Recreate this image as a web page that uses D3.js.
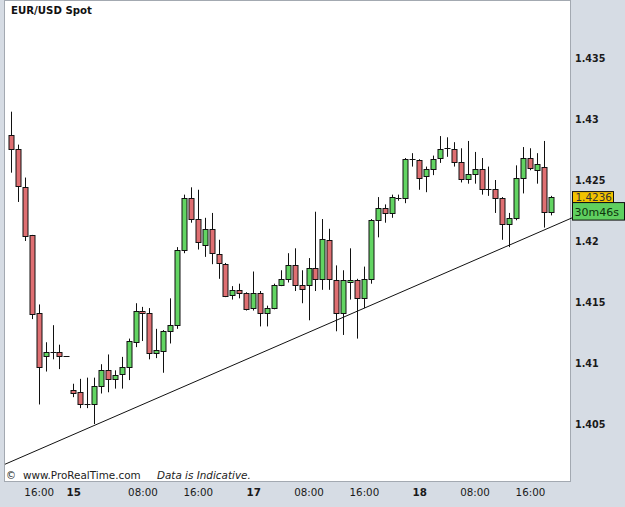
<!DOCTYPE html>
<html>
<head>
<meta charset="utf-8">
<script src="https://cdn.jsdelivr.net/npm/d3@7"></script>
<style>
html,body{margin:0;padding:0;background:#d6dce4;}
svg{display:block;}
</style>
</head>
<body>
<svg id="chart" width="625" height="507"></svg>
<script>
// ---- data ----
const title = "EUR/USD Spot";
const opens  = [1.4287,1.4275,1.4244,1.4205,1.4141,1.4106,1.4109,1.4109,1.4106,1.4078,1.4076,1.4066,1.4066,1.4081,1.4094,1.4087,1.4091,1.4097,1.4117,1.4143,1.4141,1.4108,1.4110,1.4126,1.4131,1.4193,1.4235,1.4218,1.4197,1.4210,1.4189,1.4181,1.4156,1.4160,1.4157,1.4145,1.4157,1.4141,1.4145,1.4164,1.4169,1.4180,1.4164,1.4164,1.4178,1.4169,1.4201,1.4168,1.4141,1.4166,1.4168,1.4153,1.4169,1.4217,1.4227,1.4223,1.4235,1.4235,1.4267,1.4266,1.4253,1.4259,1.4268,1.4276,1.4275,1.4265,1.4251,1.4255,1.4259,1.4243,1.4243,1.4235,1.4214,1.4219,1.4252,1.4268,1.4258,1.4261,1.4224];
const highs  = [1.4306,1.4279,1.4252,1.4205,1.4148,1.4117,1.4131,1.4115,1.4106,1.4083,1.4087,1.4088,1.4088,1.4099,1.4107,1.4094,1.4105,1.4120,1.4149,1.4146,1.4145,1.4128,1.4127,1.4153,1.4195,1.4238,1.4244,1.4242,1.4219,1.4223,1.4201,1.4182,1.4163,1.4165,1.4158,1.4175,1.4159,1.4147,1.4165,1.4176,1.4190,1.4194,1.4176,1.4186,1.4224,1.4218,1.4210,1.4180,1.4176,1.4194,1.4169,1.4179,1.4218,1.4236,1.4230,1.4238,1.4238,1.4268,1.4272,1.4267,1.4261,1.4270,1.4286,1.4285,1.4281,1.4276,1.4282,1.4273,1.4268,1.4261,1.4250,1.4236,1.4223,1.4262,1.4277,1.4276,1.4272,1.4282,1.4237];
const lows   = [1.4256,1.4232,1.4200,1.4136,1.4066,1.4093,1.4103,1.4095,1.4106,1.4072,1.4063,1.4063,1.4050,1.4075,1.4076,1.4079,1.4079,1.4086,1.4113,1.4118,1.4103,1.4104,1.4092,1.4116,1.4128,1.4190,1.4215,1.4193,1.4187,1.4181,1.4169,1.4154,1.4152,1.4153,1.4143,1.4143,1.4130,1.4130,1.4144,1.4163,1.4166,1.4159,1.4149,1.4135,1.4159,1.4160,1.4160,1.4126,1.4123,1.4152,1.4120,1.4145,1.4165,1.4203,1.4215,1.4219,1.4233,1.4231,1.4261,1.4242,1.4240,1.4254,1.4264,1.4269,1.4261,1.4248,1.4247,1.4247,1.4238,1.4237,1.4223,1.4201,1.4195,1.4217,1.4239,1.4258,1.4247,1.4211,1.4221];
const closes = [1.4275,1.4245,1.4204,1.4140,1.4097,1.4109,1.4109,1.4106,1.4106,1.4075,1.4066,1.4066,1.4081,1.4094,1.4087,1.4090,1.4097,1.4118,1.4143,1.4141,1.4108,1.4111,1.4126,1.4131,1.4193,1.4235,1.4218,1.4199,1.4210,1.4190,1.4182,1.4155,1.4160,1.4157,1.4144,1.4157,1.4141,1.4145,1.4164,1.4169,1.4180,1.4164,1.4161,1.4178,1.4169,1.4202,1.4169,1.4141,1.4168,1.4168,1.4153,1.4169,1.4217,1.4227,1.4223,1.4236,1.4235,1.4267,1.4267,1.4252,1.4259,1.4267,1.4275,1.4276,1.4265,1.4251,1.4255,1.4259,1.4243,1.4243,1.4235,1.4214,1.4219,1.4252,1.4268,1.4260,1.4263,1.4224,1.4236];
const xTickIndex  = [4, 9, 19, 27, 35, 43, 51, 59, 67, 75];
const xTickLabels = ["16:00","15","08:00","16:00","17","08:00","16:00","18","08:00","16:00"];
const xTickBold   = [false,true,false,false,true,false,false,true,false,false];
const yTicks      = [1.405, 1.41, 1.415, 1.42, 1.425, 1.43, 1.435];
const yTickLabels = ["1.405","1.41","1.415","1.42","1.425","1.43","1.435"];
const trendIndex  = [-0.87, 81.1];
const trendPrice  = [1.4017, 1.4219];
const lastPrice   = "1.4236";
const countdown   = "30m46s";
const footerSite  = "www.ProRealTime.com";
const footerNote  = "Data is Indicative.";

// ---- drawing ----
const svg = d3.select("#chart");
const W = 625, H = 507;
const plot = {left: 4.5, top: 0.5, right: 570.5, bottom: 481.5};

const x = d3.scaleLinear().domain([0, opens.length - 1]).range([11, 550.7]);
const y = d3.scaleLinear().domain([1.40, 1.44]).range([485, -3]);

svg.append("rect").attr("width", W).attr("height", H).attr("fill", "#d6dce4");
svg.append("rect")
  .attr("x", plot.left).attr("y", plot.top)
  .attr("width", plot.right - plot.left).attr("height", plot.bottom - plot.top)
  .attr("fill", "#ffffff").attr("stroke", "#a3a9b1").attr("stroke-width", 1);

const font = "DejaVu Sans, Verdana, sans-serif";

// title
svg.append("text").attr("x", 11).attr("y", 13.5)
  .attr("font-family", font).attr("font-size", 10.2).attr("font-weight", "bold")
  .attr("fill", "#111").text(title);

// footer
svg.append("text").attr("x", 6).attr("y", 478.5)
  .attr("font-family", font).attr("font-size", 10).attr("fill", "#222").text("\u00A9");
svg.append("text").attr("x", 23).attr("y", 478.5)
  .attr("font-family", font).attr("font-size", 10.4).attr("fill", "#222").text(footerSite);
svg.append("text").attr("x", 157).attr("y", 478.5)
  .attr("font-family", font).attr("font-size", 10.4).attr("font-style", "italic")
  .attr("fill", "#222").text(footerNote);

// trend line
const tl = d3.line().x(d => x(d[0])).y(d => y(d[1]));
svg.append("path")
  .datum(trendIndex.map((t, i) => [t, trendPrice[i]]))
  .attr("d", tl).attr("fill", "none").attr("stroke", "#111").attr("stroke-width", 1);

// candles
const candles = opens.map((o, i) => ({i, o, h: highs[i], l: lows[i], c: closes[i]}));
const g = svg.append("g");
const cg = g.selectAll("g.c").data(candles).join("g").attr("class", "c");
cg.append("line")
  .attr("x1", d => Math.round(x(d.i)) + 0.5).attr("x2", d => Math.round(x(d.i)) + 0.5)
  .attr("y1", d => y(d.h)).attr("y2", d => y(d.l))
  .attr("stroke", "#111").attr("stroke-width", 1);
cg.each(function(d) {
  const sel = d3.select(this);
  const cx = Math.round(x(d.i)) + 0.5;
  const top = y(Math.max(d.o, d.c)), bot = y(Math.min(d.o, d.c));
  if (bot - top < 1.5) {
    sel.append("line").attr("x1", cx - 3).attr("x2", cx + 3)
      .attr("y1", Math.round(top) + 0.5).attr("y2", Math.round(top) + 0.5)
      .attr("stroke", "#111").attr("stroke-width", 1);
  } else {
    sel.append("rect")
      .attr("x", cx - 2.5).attr("width", 5)
      .attr("y", Math.round(top) + 0.5).attr("height", Math.max(1, Math.round(bot) - Math.round(top)))
      .attr("fill", d.c >= d.o ? "#62d462" : "#df6f72")
      .attr("stroke", "#111").attr("stroke-width", 1);
  }
});

// right axis
const ya = svg.append("g").attr("transform", `translate(${plot.right},0)`)
  .call(d3.axisRight(y).tickValues(yTicks).tickSize(0).tickPadding(4.5)
    .tickFormat((d, i) => yTickLabels[i]));
ya.select(".domain").remove();
ya.selectAll("text").attr("font-family", font).attr("font-size", 9.6)
  .attr("font-weight", "bold").attr("fill", "#1a1a1a");

// bottom axis
const xa = svg.append("g").attr("transform", `translate(0,${plot.bottom})`)
  .call(d3.axisBottom(x).tickValues(xTickIndex).tickSize(0).tickPadding(7)
    .tickFormat((d, i) => xTickLabels[i]));
xa.select(".domain").remove();
xa.selectAll("text").attr("font-family", font).attr("font-size", 10.3)
  .attr("fill", "#1a1a1a")
  .attr("font-weight", (d, i) => xTickBold[i] ? "bold" : "normal");

// last price + countdown labels
const yl = y(+lastPrice);
const bx = 572.5;
svg.append("rect").attr("x", bx).attr("y", yl - 5.5).attr("width", 41).attr("height", 11)
  .attr("fill", "#f2c200").attr("stroke", "#111").attr("stroke-width", 1);
svg.append("text").attr("x", bx + 3).attr("y", yl + 4)
  .attr("font-family", font).attr("font-size", 10.4).attr("fill", "#333").text(lastPrice);
svg.append("rect").attr("x", bx).attr("y", yl + 5.5).attr("width", 52).attr("height", 17.5)
  .attr("fill", "#5fcf5f").attr("stroke", "#111").attr("stroke-width", 1);
svg.append("text").attr("x", bx + 2).attr("y", yl + 18.5)
  .attr("font-family", font).attr("font-size", 11).attr("fill", "#0d330d").text(countdown);
</script>
</body>
</html>
